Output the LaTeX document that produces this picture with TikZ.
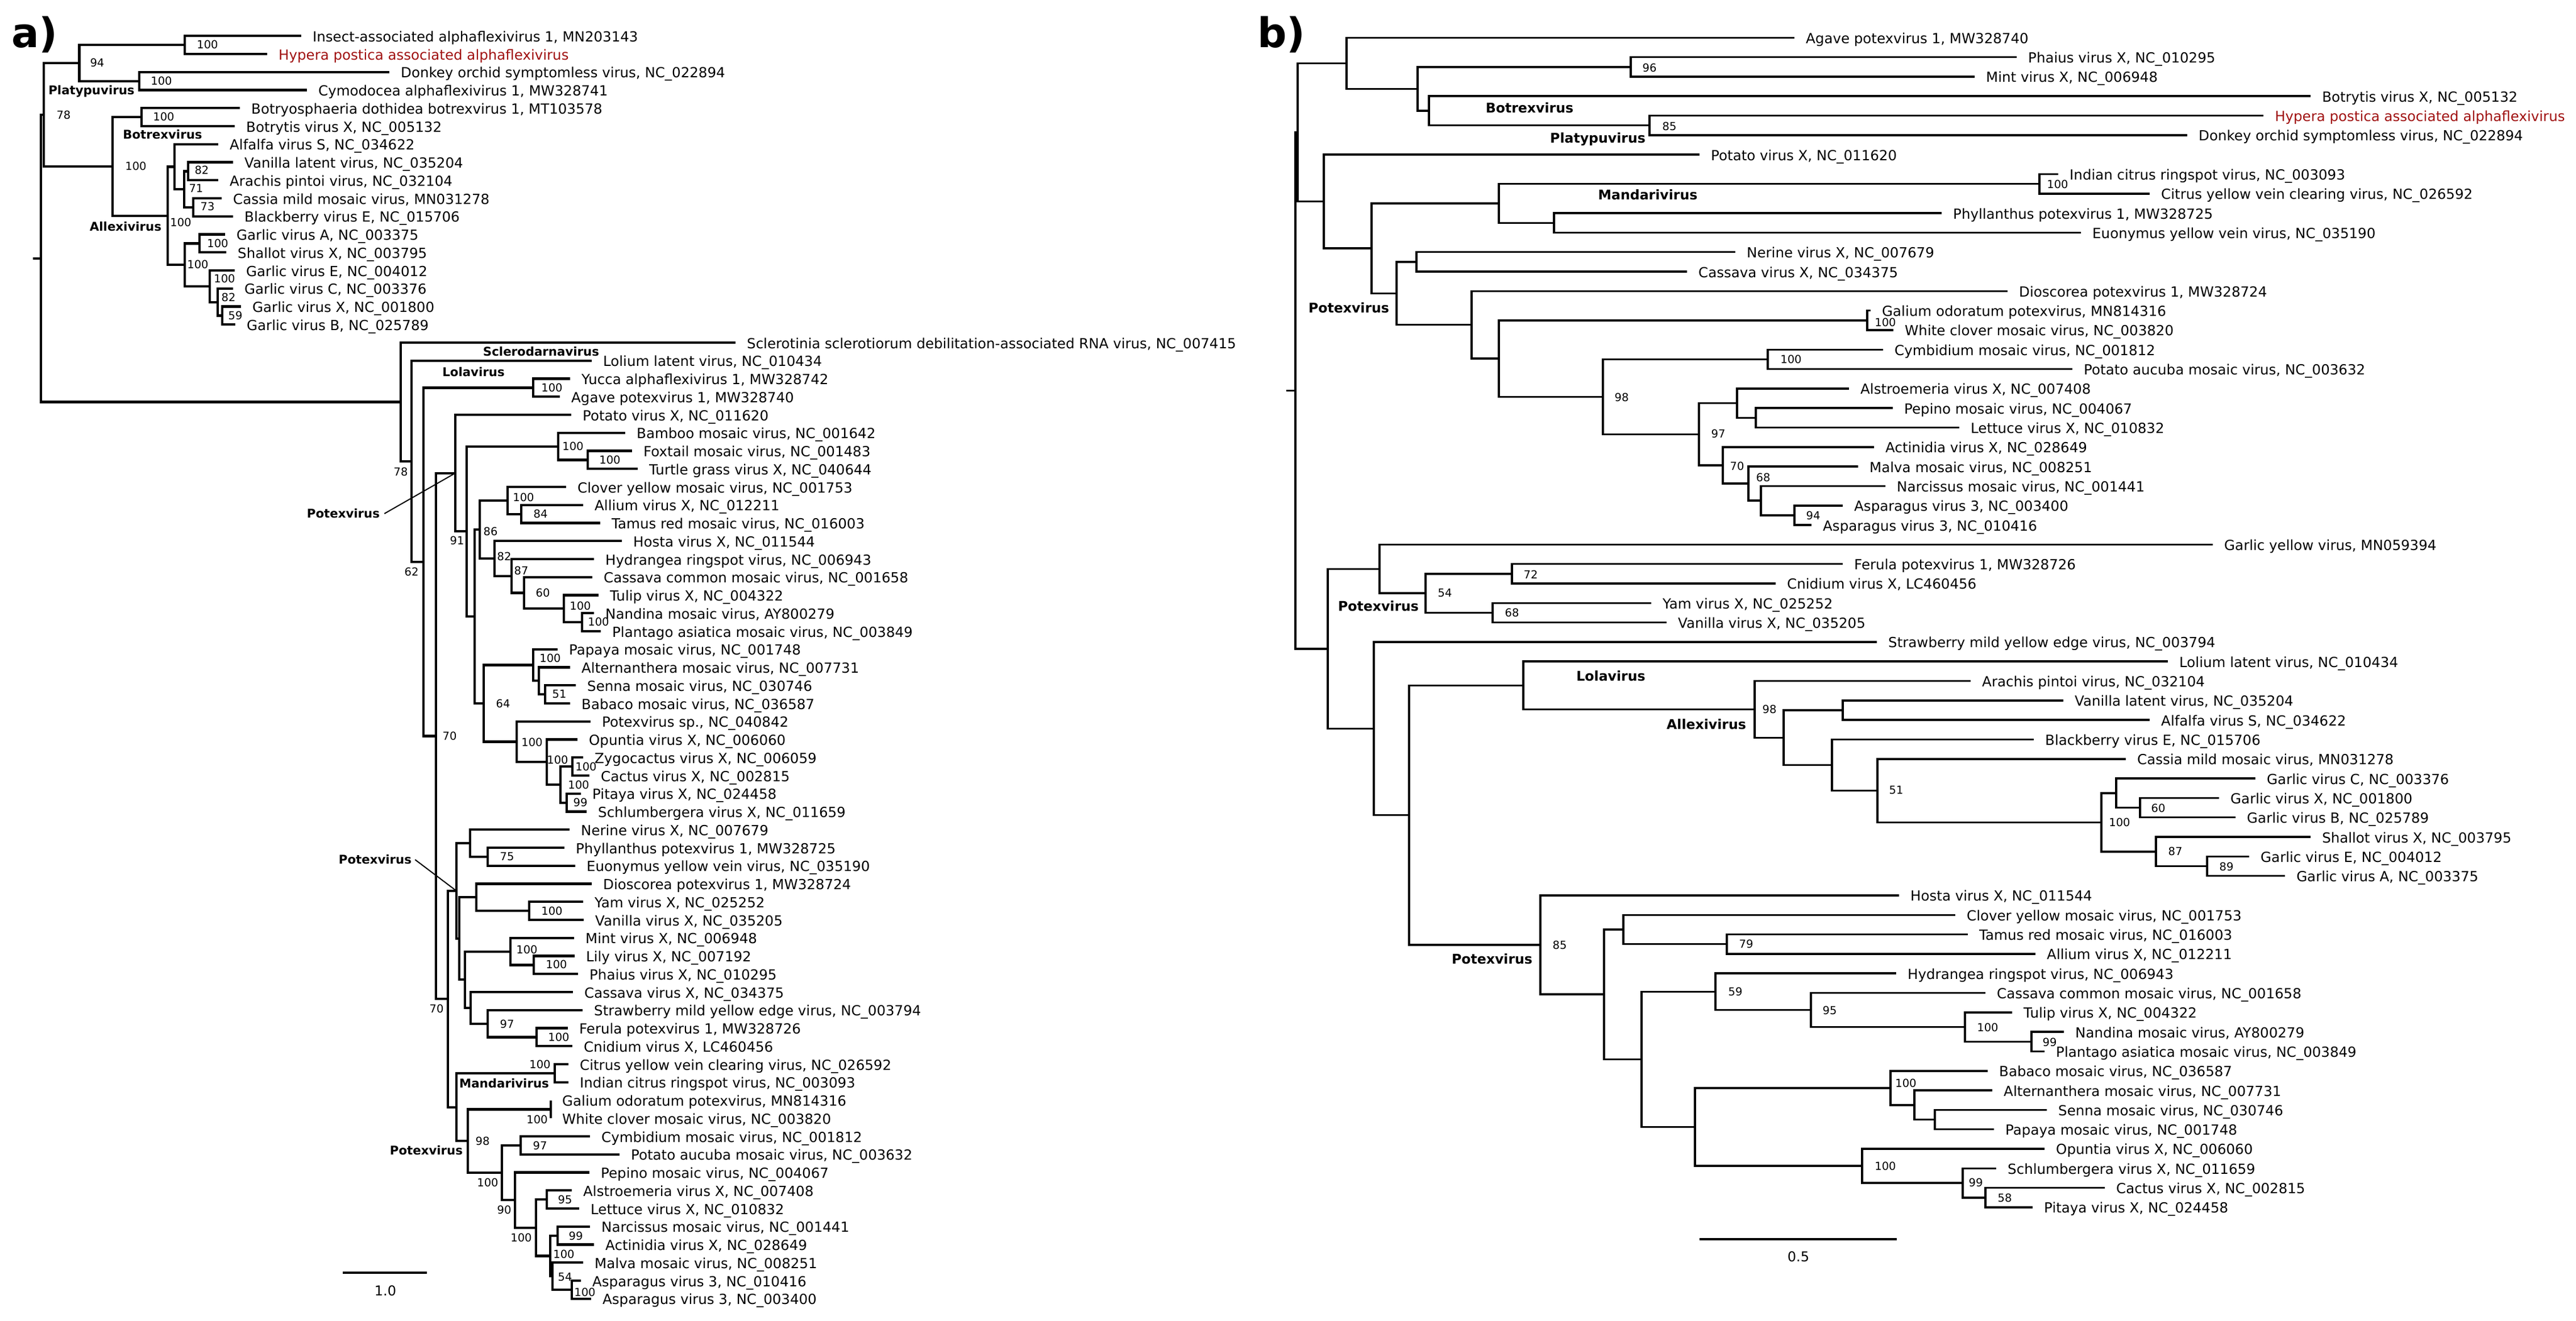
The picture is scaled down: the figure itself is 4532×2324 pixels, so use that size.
\documentclass[tikz,border=0pt]{standalone}
\usepackage{fontspec}
\setmainfont{DejaVu Sans}
\definecolor{hyred}{RGB}{160,16,16}
\newcommand\tipA[5][]{\coordinate (#2) at (#3,{63.3+(#4-1)*31.75}); \node[leaf,#1] (#2t) at ([xshift=20pt,yshift=-10pt]#2) {#5};}
\newcommand\tipB[5][]{\coordinate (#2) at (#3,{66.3+(#4-1)*34.31}); \node[leaf,#1] (#2t) at ([xshift=20pt,yshift=-10pt]#2) {#5};}
\newcommand\nodA[3]{\coordinate (#1) at (#2,{63.3+(#3-1)*31.75});}
\newcommand\nodB[3]{\coordinate (#1) at (#2,{66.3+(#3-1)*34.31});}
\newcommand\edg[3]{\draw[br] (#1) |- (#2); \draw[br] (#1) |- (#3);}
\newcommand\bsl[3]{\node[bs] (bs-#1-#2) at (#1,#2) {#3};}
\tikzset{
  leaf/.style={anchor=base west, inner sep=0pt, font=\fontsize{24.5}{29}\selectfont},
  bs/.style={inner sep=0pt, font=\fontsize{19.5}{23}\selectfont},
  cladeA/.style={inner sep=0pt, font=\bfseries\fontsize{21.3}{25}\selectfont},
  cladeB/.style={inner sep=0pt, font=\bfseries\fontsize{23.6}{27}\selectfont},
  panel/.style={anchor=base west, inner sep=0pt, font=\bfseries\fontsize{72}{80}\selectfont},
  sbl/.style={inner sep=0pt, font=\fontsize{24}{28}\selectfont},
  lead/.style={line width=2pt},
}
\begin{document}
\begin{tikzpicture}[x=1pt,y=-1pt]
\fill[white] (0,0) rectangle (4532,2324);
\useasboundingbox (0,0) rectangle (4532,2324);

\node[panel] (pa) at (20,83) {a)};
\node[panel] (pb) at (2212,83) {b)};

% ================= PANEL A =================
\begin{scope}[br/.style={line width=4.2pt}]
\tipA{l1}{530}{1}{Insect-associated alphaflexivirus 1, MN203143}
\tipA[text=hyred]{l2}{470}{2}{Hypera postica associated alphaflexivirus}
\tipA{l3}{685}{3}{Donkey orchid symptomless virus, NC\_022894}
\tipA{l4}{540}{4}{Cymodocea alphaflexivirus 1, MW328741}
\tipA{l5}{422}{5}{Botryosphaeria dothidea botrexvirus 1, MT103578}
\tipA{l6}{413}{6}{Botrytis virus X, NC\_005132}
\tipA{l7}{384}{7}{Alfalfa virus S, NC\_034622}
\tipA{l8}{410}{8}{Vanilla latent virus, NC\_035204}
\tipA{l9}{384}{9}{Arachis pintoi virus, NC\_032104}
\tipA{l10}{390}{10}{Cassia mild mosaic virus, MN031278}
\tipA{l11}{410}{11}{Blackberry virus E, NC\_015706}
\tipA{l12}{396}{12}{Garlic virus A, NC\_003375}
\tipA{l13}{398}{13}{Shallot virus X, NC\_003795}
\tipA{l14}{413}{14}{Garlic virus E, NC\_004012}
\tipA{l15}{410}{15}{Garlic virus C, NC\_003376}
\tipA{l16}{424}{16}{Garlic virus X, NC\_001800}
\tipA{l17}{414}{17}{Garlic virus B, NC\_025789}
\tipA{l18}{1294}{18}{Sclerotinia sclerotiorum debilitation-associated RNA virus, NC\_007415}
\tipA{l19}{1041}{19}{Lolium latent virus, NC\_010434}
\tipA{l20}{1003}{20}{Yucca alphaflexivirus 1, MW328742}
\tipA{l21}{985}{21}{Agave potexvirus 1, MW328740}
\tipA{l22}{1005}{22}{Potato virus X, NC\_011620}
\tipA{l23}{1100}{23}{Bamboo mosaic virus, NC\_001642}
\tipA{l24}{1112}{24}{Foxtail mosaic virus, NC\_001483}
\tipA{l25}{1122}{25}{Turtle grass virus X, NC\_040644}
\tipA{l26}{996}{26}{Clover yellow mosaic virus, NC\_001753}
\tipA{l27}{1026}{27}{Allium virus X, NC\_012211}
\tipA{l28}{1056}{28}{Tamus red mosaic virus, NC\_016003}
\tipA{l29}{1094}{29}{Hosta virus X, NC\_011544}
\tipA{l30}{1045}{30}{Hydrangea ringspot virus, NC\_006943}
\tipA{l31}{1042}{31}{Cassava common mosaic virus, NC\_001658}
\tipA{l32}{1053}{32}{Tulip virus X, NC\_004322}
\tipA{l33}{1045}{33}{Nandina mosaic virus, AY800279}
\tipA{l34}{1057}{34}{Plantago asiatica mosaic virus, NC\_003849}
\tipA{l35}{981}{35}{Papaya mosaic virus, NC\_001748}
\tipA{l36}{1003}{36}{Alternanthera mosaic virus, NC\_007731}
\tipA{l37}{1013}{37}{Senna mosaic virus, NC\_030746}
\tipA{l38}{1003}{38}{Babaco mosaic virus, NC\_036587}
\tipA{l39}{1039}{39}{Potexvirus sp., NC\_040842}
\tipA{l40}{1016}{40}{Opuntia virus X, NC\_006060}
\tipA{l41}{1026}{41}{Zygocactus virus X, NC\_006059}
\tipA{l42}{1037}{42}{Cactus virus X, NC\_002815}
\tipA{l43}{1022}{43}{Pitaya virus X, NC\_024458}
\tipA{l44}{1032}{44}{Schlumbergera virus X, NC\_011659}
\tipA{l45}{1002}{45}{Nerine virus X, NC\_007679}
\tipA{l46}{993}{46}{Phyllanthus potexvirus 1, MW328725}
\tipA{l47}{1012}{47}{Euonymus yellow vein virus, NC\_035190}
\tipA{l48}{1041}{48}{Dioscorea potexvirus 1, MW328724}
\tipA{l49}{1026}{49}{Yam virus X, NC\_025252}
\tipA{l50}{1027}{50}{Vanilla virus X, NC\_035205}
\tipA{l51}{1010}{51}{Mint virus X, NC\_006948}
\tipA{l52}{1011}{52}{Lily virus X, NC\_007192}
\tipA{l53}{1017}{53}{Phaius virus X, NC\_010295}
\tipA{l54}{1008}{54}{Cassava virus X, NC\_034375}
\tipA{l55}{1025}{55}{Strawberry mild yellow edge virus, NC\_003794}
\tipA{l56}{999}{56}{Ferula potexvirus 1, MW328726}
\tipA{l57}{1007}{57}{Cnidium virus X, LC460456}
\tipA{l58}{1000}{58}{Citrus yellow vein clearing virus, NC\_026592}
\tipA{l59}{1000}{59}{Indian citrus ringspot virus, NC\_003093}
\tipA{l60}{969}{60}{Galium odoratum potexvirus, MN814316}
\tipA{l61}{969}{61}{White clover mosaic virus, NC\_003820}
\tipA{l62}{1038}{62}{Cymbidium mosaic virus, NC\_001812}
\tipA{l63}{1090}{63}{Potato aucuba mosaic virus, NC\_003632}
\tipA{l64}{1037}{64}{Pepino mosaic virus, NC\_004067}
\tipA{l65}{1006}{65}{Alstroemeria virus X, NC\_007408}
\tipA{l66}{1019}{66}{Lettuce virus X, NC\_010832}
\tipA{l67}{1038}{67}{Narcissus mosaic virus, NC\_001441}
\tipA{l68}{1045}{68}{Actinidia virus X, NC\_028649}
\tipA{l69}{1026}{69}{Malva mosaic virus, NC\_008251}
\tipA{l70}{1022}{70}{Asparagus virus 3, NC\_010416}
\tipA{l71}{1040}{71}{Asparagus virus 3, NC\_003400}

\nodA{aI1}{325}{1.5}
\nodA{aD}{245}{3.5}
\nodA{a94}{139.5}{2.5}
\nodA{aB}{249}{5.5}
\nodA{aVA}{331}{8.5}
\nodA{aCB}{340}{10.5}
\nodA{a71}{324}{9.5}
\nodA{aAl}{307}{8.25}
\nodA{aGS}{351}{12.5}
\nodA{aGXB}{391}{16.5}
\nodA{aG82}{383}{15.75}
\nodA{aG100}{369}{14.875}
\nodA{aGall}{325}{13.6875}
\nodA{aAllex}{295}{10.96875}
\nodA{aBA}{198}{8.234375}
\nodA{a78}{77}{5.3671875}
\nodA{aYA}{938}{20.5}
\nodA{aFT}{1034}{24.5}
\nodA{aBam}{982}{23.75}
\nodA{aAT}{917}{27.5}
\nodA{aCl}{893}{26.75}
\nodA{aNP}{1024}{33.5}
\nodA{aTu}{992}{32.75}
\nodA{a60}{922}{31.875}
\nodA{a87}{900}{30.9375}
\nodA{a82}{870}{29.96875}
\nodA{a86}{844}{28.359375}
\nodA{aSB}{959}{37.5}
\nodA{aAlt}{948}{36.75}
\nodA{aPap}{938}{35.875}
\nodA{aZC}{1007}{41.5}
\nodA{aPS}{997}{43.5}
\nodA{aZP}{986}{42.5}
\nodA{aOp}{962}{41.25}
\nodA{aPsp}{909}{40.125}
\nodA{a64}{851}{38.0}
\nodA{a835}{835}{33.1797}
\nodA{a821}{821}{28.4648}
\nodA{a801}{801}{25.2324}
\nodA{aPE}{858}{46.5}
\nodA{aNer}{827}{45.75}
\nodA{aYV}{931}{49.5}
\nodA{aDio}{838}{48.75}
\nodA{aLP}{939}{52.5}
\nodA{aMint}{898}{51.75}
\nodA{aFC}{944}{56.5}
\nodA{aStr}{858}{55.75}
\nodA{aCas}{828}{54.875}
\nodA{a818}{818}{53.3125}
\nodA{a808}{808}{51.03125}
\nodA{a803}{803}{48.3906}
\nodA{aMand}{976}{58.5}
\nodA{aGal}{969}{60.5}
\nodA{aCP}{916}{62.5}
\nodA{aAL}{962}{65.5}
\nodA{aNA}{981}{67.5}
\nodA{aAsp}{1006}{70.5}
\nodA{a54}{972}{69.75}
\nodA{a100c}{968}{68.625}
\nodA{a100b}{943}{67.0625}
\nodA{a90}{906}{65.53125}
\nodA{a100a}{883}{64.0156}
\nodA{a98}{823}{62.2578}
\nodA{aMP}{803}{60.3789}
\nodA{a788}{788}{54.3848}
\nodA{a767}{767}{39.8086}
\nodA{a745}{745}{30.1543}
\nodA{a724}{724}{24.5771}
\nodA{aS}{705}{21.2886}
\nodA{a0}{72}{13.3279}
\nodA{a0s}{58}{13.3279}

\draw[br] (a0) -- (a0s);
\edg{a0}{a78}{aS}
\edg{a78}{a94}{aBA}
\edg{a94}{aI1}{aD}
\edg{aI1}{l1}{l2}
\edg{aD}{l3}{l4}
\edg{aBA}{aB}{aAllex}
\edg{aB}{l5}{l6}
\edg{aAllex}{aAl}{aGall}
\edg{aAl}{l7}{a71}
\edg{a71}{aVA}{aCB}
\edg{aVA}{l8}{l9}
\edg{aCB}{l10}{l11}
\edg{aGall}{aGS}{aG100}
\edg{aGS}{l12}{l13}
\edg{aG100}{l14}{aG82}
\edg{aG82}{l15}{aGXB}
\edg{aGXB}{l16}{l17}
\edg{aS}{l18}{a724}
\edg{a724}{l19}{a745}
\edg{a745}{aYA}{a767}
\edg{aYA}{l20}{l21}
\edg{a767}{a801}{a788}
\edg{a801}{l22}{a821}
\edg{a821}{aBam}{a835}
\edg{aBam}{l23}{aFT}
\edg{aFT}{l24}{l25}
\edg{a835}{a86}{a64}
\edg{a86}{aCl}{a82}
\edg{aCl}{l26}{aAT}
\edg{aAT}{l27}{l28}
\edg{a82}{l29}{a87}
\edg{a87}{l30}{a60}
\edg{a60}{l31}{aTu}
\edg{aTu}{l32}{aNP}
\edg{aNP}{l33}{l34}
\edg{a64}{aPap}{aPsp}
\edg{aPap}{l35}{aAlt}
\edg{aAlt}{l36}{aSB}
\edg{aSB}{l37}{l38}
\edg{aPsp}{l39}{aOp}
\edg{aOp}{l40}{aZP}
\edg{aZP}{aZC}{aPS}
\edg{aZC}{l41}{l42}
\edg{aPS}{l43}{l44}
\edg{a788}{a803}{aMP}
\edg{a803}{aNer}{a808}
\edg{aNer}{l45}{aPE}
\edg{aPE}{l46}{l47}
\edg{a808}{aDio}{a818}
\edg{aDio}{l48}{aYV}
\edg{aYV}{l49}{l50}
\edg{a818}{aMint}{aCas}
\edg{aMint}{l51}{aLP}
\edg{aLP}{l52}{l53}
\edg{aCas}{l54}{aStr}
\edg{aStr}{l55}{aFC}
\edg{aFC}{l56}{l57}
\edg{aMP}{aMand}{a98}
\edg{aMand}{l58}{l59}
\edg{a98}{aGal}{a100a}
\edg{aGal}{l60}{l61}
\edg{a100a}{aCP}{a90}
\edg{aCP}{l62}{l63}
\edg{a90}{l64}{a100b}
\edg{a100b}{aAL}{a100c}
\edg{aAL}{l65}{l66}
\edg{a100c}{aNA}{a54}
\edg{aNA}{l67}{l68}
\edg{a54}{l69}{aAsp}
\edg{aAsp}{l70}{l71}

% support values
\bsl{365}{78}{100}
\bsl{171}{110}{94}
\bsl{284}{142}{100}
\bsl{112}{202}{78}
\bsl{288}{205}{100}
\bsl{239}{292}{100}
\bsl{355}{299}{82}
\bsl{345}{331}{71}
\bsl{365}{363}{73}
\bsl{318}{391}{100}
\bsl{383}{428}{100}
\bsl{348}{465}{100}
\bsl{395}{490}{100}
\bsl{402}{523}{82}
\bsl{414}{555}{59}
\bsl{705}{830}{78}
\bsl{724}{1006}{62}
\bsl{971}{682}{100}
\bsl{804}{951}{91}
\bsl{1008}{785}{100}
\bsl{1073}{809}{100}
\bsl{921}{875}{100}
\bsl{951}{904}{84}
\bsl{863}{935}{86}
\bsl{887}{979}{82}
\bsl{917}{1004}{87}
\bsl{955}{1043}{60}
\bsl{1021}{1066}{100}
\bsl{1053}{1094}{100}
\bsl{968}{1158}{100}
\bsl{984}{1222}{51}
\bsl{885}{1238}{64}
\bsl{791}{1295}{70}
\bsl{936}{1306}{100}
\bsl{981}{1337}{100}
\bsl{1031}{1349}{100}
\bsl{1018}{1381}{100}
\bsl{1021}{1412}{99}
\bsl{892}{1508}{75}
\bsl{971}{1603}{100}
\bsl{927}{1671}{100}
\bsl{979}{1697}{100}
\bsl{768}{1775}{70}
\bsl{892}{1802}{97}
\bsl{983}{1825}{100}
\bsl{950}{1873}{100}
\bsl{945}{1970}{100}
\bsl{849}{2008}{98}
\bsl{950}{2016}{97}
\bsl{858}{2081}{100}
\bsl{887}{2129}{90}
\bsl{994}{2111}{95}
\bsl{917}{2178}{100}
\bsl{1013}{2175}{99}
\bsl{992}{2207}{100}
\bsl{994}{2247}{54}
\bsl{1029}{2274}{100}

% clade names
\node[cladeA] (cAplat) at (161,161) {Platypuvirus};
\node[cladeA] (cAbot) at (286,237) {Botrexvirus};
\node[cladeA] (cAall) at (221,399) {Allexivirus};
\node[cladeA] (cAscl) at (952,619) {Sclerodarnavirus};
\node[cladeA] (cAlol) at (833,655) {Lolavirus};
\node[cladeA] (cApot1) at (604,904) {Potexvirus};
\node[cladeA] (cApot2) at (660,1513) {Potexvirus};
\node[cladeA] (cAman) at (887,1907) {Mandarivirus};
\node[cladeA] (cApot3) at (750,2025) {Potexvirus};
\draw[lead] ([xshift=8pt]cApot1.east) -- (a801);
\draw[lead] ([xshift=6pt]cApot2.east) -- (a803);

% scale bar
\coordinate (sa1) at (603,2240);
\coordinate (sa2) at (751,2240);
\draw[br] (sa1) -- (sa2);
\node[sbl] (sal) at (678,2272) {1.0};
\end{scope}

% ================= PANEL B =================
\begin{scope}[br/.style={line width=3.5pt}]
\tipB{m1}{3157}{1}{Agave potexvirus 1, MW328740}
\tipB{m2}{3548}{2}{Phaius virus X, NC\_010295}
\tipB{m3}{3474}{3}{Mint virus X, NC\_006948}
\tipB{m4}{4065}{4}{Botrytis virus X, NC\_005132}
\tipB[text=hyred]{m5}{3982}{5}{Hypera postica associated alphaflexivirus}
\tipB{m6}{3848}{6}{Donkey orchid symptomless virus, NC\_022894}
\tipB{m7}{2990}{7}{Potato virus X, NC\_011620}
\tipB{m8}{3621}{8}{Indian citrus ringspot virus, NC\_003093}
\tipB{m9}{3782}{9}{Citrus yellow vein clearing virus, NC\_026592}
\tipB{m10}{3416}{10}{Phyllanthus potexvirus 1, MW328725}
\tipB{m11}{3661}{11}{Euonymus yellow vein virus, NC\_035190}
\tipB{m12}{3053}{12}{Nerine virus X, NC\_007679}
\tipB{m13}{2968}{13}{Cassava virus X, NC\_034375}
\tipB{m14}{3532}{14}{Dioscorea potexvirus 1, MW328724}
\tipB{m15}{3291}{15}{Galium odoratum potexvirus, MN814316}
\tipB{m16}{3331}{16}{White clover mosaic virus, NC\_003820}
\tipB{m17}{3313}{17}{Cymbidium mosaic virus, NC\_001812}
\tipB{m18}{3646}{18}{Potato aucuba mosaic virus, NC\_003632}
\tipB{m19}{3253}{19}{Alstroemeria virus X, NC\_007408}
\tipB{m20}{3330}{20}{Pepino mosaic virus, NC\_004067}
\tipB{m21}{3447}{21}{Lettuce virus X, NC\_010832}
\tipB{m22}{3297}{22}{Actinidia virus X, NC\_028649}
\tipB{m23}{3269}{23}{Malva mosaic virus, NC\_008251}
\tipB{m24}{3317}{24}{Narcissus mosaic virus, NC\_001441}
\tipB{m25}{3242}{25}{Asparagus virus 3, NC\_003400}
\tipB{m26}{3187}{26}{Asparagus virus 3, NC\_010416}
\tipB{m27}{3893}{27}{Garlic yellow virus, MN059394}
\tipB{m28}{3242}{28}{Ferula potexvirus 1, MW328726}
\tipB{m29}{3124}{29}{Cnidium virus X, LC460456}
\tipB{m30}{2905}{30}{Yam virus X, NC\_025252}
\tipB{m31}{2932}{31}{Vanilla virus X, NC\_035205}
\tipB{m32}{3302}{32}{Strawberry mild yellow edge virus, NC\_003794}
\tipB{m33}{3814}{33}{Lolium latent virus, NC\_010434}
\tipB{m34}{3467}{34}{Arachis pintoi virus, NC\_032104}
\tipB{m35}{3630}{35}{Vanilla latent virus, NC\_035204}
\tipB{m36}{3782}{36}{Alfalfa virus S, NC\_034622}
\tipB{m37}{3578}{37}{Blackberry virus E, NC\_015706}
\tipB{m38}{3740}{38}{Cassia mild mosaic virus, MN031278}
\tipB{m39}{3968}{39}{Garlic virus C, NC\_003376}
\tipB{m40}{3904}{40}{Garlic virus X, NC\_001800}
\tipB{m41}{3933}{41}{Garlic virus B, NC\_025789}
\tipB{m42}{4065}{42}{Shallot virus X, NC\_003795}
\tipB{m43}{3957}{43}{Garlic virus E, NC\_004012}
\tipB{m44}{4020}{44}{Garlic virus A, NC\_003375}
\tipB{m45}{3341}{45}{Hosta virus X, NC\_011544}
\tipB{m46}{3440}{46}{Clover yellow mosaic virus, NC\_001753}
\tipB{m47}{3462}{47}{Tamus red mosaic virus, NC\_016003}
\tipB{m48}{3581}{48}{Allium virus X, NC\_012211}
\tipB{m49}{3336}{49}{Hydrangea ringspot virus, NC\_006943}
\tipB{m50}{3493}{50}{Cassava common mosaic virus, NC\_001658}
\tipB{m51}{3540}{51}{Tulip virus X, NC\_004322}
\tipB{m52}{3631}{52}{Nandina mosaic virus, AY800279}
\tipB{m53}{3597}{53}{Plantago asiatica mosaic virus, NC\_003849}
\tipB{m54}{3497}{54}{Babaco mosaic virus, NC\_036587}
\tipB{m55}{3505}{55}{Alternanthera mosaic virus, NC\_007731}
\tipB{m56}{3601}{56}{Senna mosaic virus, NC\_030746}
\tipB{m57}{3508}{57}{Papaya mosaic virus, NC\_001748}
\tipB{m58}{3597}{58}{Opuntia virus X, NC\_006060}
\tipB{m59}{3512}{59}{Schlumbergera virus X, NC\_011659}
\tipB{m60}{3703}{60}{Cactus virus X, NC\_002815}
\tipB{m61}{3576}{61}{Pitaya virus X, NC\_024458}

\nodB{bPM}{2869}{2.5}
\nodB{bHD}{2902}{5.5}
\nodB{bBot}{2514}{4.75}
\nodB{bPMB}{2494}{3.625}
\nodB{b1}{2369}{2.3125}
\nodB{bIC}{3588}{8.5}
\nodB{bPE}{2734}{10.5}
\nodB{bMand}{2637}{9.5}
\nodB{bNC}{2492}{12.5}
\nodB{bGW}{3285}{15.5}
\nodB{bCP}{3110}{17.5}
\nodB{bPL}{3089}{20.5}
\nodB{bAls}{3056}{19.75}
\nodB{bAsp}{3157}{25.5}
\nodB{bNar}{3098}{24.75}
\nodB{b68}{3076}{23.875}
\nodB{b70}{3031}{22.9375}
\nodB{b97}{2989}{21.34375}
\nodB{b98}{2820}{19.421875}
\nodB{bG}{2637}{17.4609}
\nodB{bDio}{2589}{15.7305}
\nodB{bNCD}{2457}{14.1152}
\nodB{bPot}{2413}{11.8076}
\nodB{b2}{2329}{9.4038}
\nodB{bR}{2283}{5.8582}
\nodB{bFC}{2660}{28.5}
\nodB{bYV}{2626}{30.5}
\nodB{b54}{2508}{29.5}
\nodB{bGY}{2427}{28.25}
\nodB{bAV}{3242}{35.5}
\nodB{bGXB}{3765}{40.5}
\nodB{bGC}{3723}{39.75}
\nodB{bEA}{3883}{43.5}
\nodB{b87}{3793}{42.75}
\nodB{b100}{3697}{41.25}
\nodB{b51}{3303}{39.625}
\nodB{bBl}{3223}{38.3125}
\nodB{bVB}{3138}{36.90625}
\nodB{b98a}{3087}{35.453125}
\nodB{bLol}{2680}{34.2266}
\nodB{bTA}{3038}{47.5}
\nodB{bCl}{2856}{46.75}
\nodB{bNP}{3574}{52.5}
\nodB{bTu}{3457}{51.75}
\nodB{b95}{3186}{50.875}
\nodB{b59}{3018}{49.9375}
\nodB{bSP}{3404}{56.5}
\nodB{bAlt}{3368}{55.75}
\nodB{bBab}{3326}{54.875}
\nodB{bCPt}{3493}{60.5}
\nodB{b99}{3453}{59.75}
\nodB{bOp}{3276}{58.875}
\nodB{bBO}{2982}{56.875}
\nodB{bHC}{2888}{53.40625}
\nodB{bCH}{2822}{50.0781}
\nodB{b85}{2710}{47.5391}
\nodB{bLP}{2479}{40.8828}
\nodB{bStr}{2417}{36.4414}
\nodB{b3}{2336}{32.3457}
\nodB{b0}{2279}{19.102}
\nodB{b0s}{2263}{19.102}

\draw[br] (b0) -- (b0s);
\edg{b0}{bR}{b3}
\edg{bR}{b1}{b2}
\edg{b1}{m1}{bPMB}
\edg{bPMB}{bPM}{bBot}
\edg{bPM}{m2}{m3}
\edg{bBot}{m4}{bHD}
\edg{bHD}{m5}{m6}
\edg{b2}{m7}{bPot}
\edg{bPot}{bMand}{bNCD}
\edg{bMand}{bIC}{bPE}
\edg{bIC}{m8}{m9}
\edg{bPE}{m10}{m11}
\edg{bNCD}{bNC}{bDio}
\edg{bNC}{m12}{m13}
\edg{bDio}{m14}{bG}
\edg{bG}{bGW}{b98}
\edg{bGW}{m15}{m16}
\edg{b98}{bCP}{b97}
\edg{bCP}{m17}{m18}
\edg{b97}{bAls}{b70}
\edg{bAls}{m19}{bPL}
\edg{bPL}{m20}{m21}
\edg{b70}{m22}{b68}
\edg{b68}{m23}{bNar}
\edg{bNar}{m24}{bAsp}
\edg{bAsp}{m25}{m26}
\edg{b3}{bGY}{bStr}
\edg{bGY}{m27}{b54}
\edg{b54}{bFC}{bYV}
\edg{bFC}{m28}{m29}
\edg{bYV}{m30}{m31}
\edg{bStr}{m32}{bLP}
\edg{bLP}{bLol}{b85}
\edg{bLol}{m33}{b98a}
\edg{b98a}{m34}{bVB}
\edg{bVB}{bAV}{bBl}
\edg{bAV}{m35}{m36}
\edg{bBl}{m37}{b51}
\edg{b51}{m38}{b100}
\edg{b100}{bGC}{b87}
\edg{bGC}{m39}{bGXB}
\edg{bGXB}{m40}{m41}
\edg{b87}{m42}{bEA}
\edg{bEA}{m43}{m44}
\edg{b85}{m45}{bCH}
\edg{bCH}{bCl}{bHC}
\edg{bCl}{m46}{bTA}
\edg{bTA}{m47}{m48}
\edg{bHC}{b59}{bBO}
\edg{b59}{m49}{b95}
\edg{b95}{m50}{bTu}
\edg{bTu}{m51}{bNP}
\edg{bNP}{m52}{m53}
\edg{bBO}{bBab}{bOp}
\edg{bBab}{m54}{bAlt}
\edg{bAlt}{m55}{bSP}
\edg{bSP}{m56}{m57}
\edg{bOp}{m58}{b99}
\edg{b99}{m59}{bCPt}
\edg{bCPt}{m60}{m61}

\bsl{2902}{119}{96}
\bsl{2937}{222}{85}
\bsl{3620}{324}{100}
\bsl{3317}{567}{100}
\bsl{3151}{632}{100}
\bsl{2853}{699}{98}
\bsl{3023}{763}{97}
\bsl{3056}{820}{70}
\bsl{3102}{840}{68}
\bsl{3190}{907}{94}
\bsl{2693}{1011}{72}
\bsl{2542}{1044}{54}
\bsl{2660}{1078}{68}
\bsl{3113}{1248}{98}
\bsl{3336}{1391}{51}
\bsl{3729}{1447}{100}
\bsl{3797}{1422}{60}
\bsl{3827}{1498}{87}
\bsl{3917}{1525}{89}
\bsl{2744}{1663}{85}
\bsl{3072}{1661}{79}
\bsl{3053}{1745}{59}
\bsl{3219}{1778}{95}
\bsl{3497}{1808}{100}
\bsl{3606}{1834}{99}
\bsl{3353}{1906}{100}
\bsl{3317}{2052}{100}
\bsl{3476}{2081}{99}
\bsl{3527}{2108}{58}

\node[cladeB] (cBbot) at (2691,190) {Botrexvirus};
\node[cladeB] (cBplat) at (2811,245) {Platypuvirus};
\node[cladeB] (cBman) at (2899,343) {Mandarivirus};
\node[cladeB] (cBpot1) at (2373,542) {Potexvirus};
\node[cladeB] (cBpot2) at (2425,1067) {Potexvirus};
\node[cladeB] (cBlol) at (2834,1190) {Lolavirus};
\node[cladeB] (cBall) at (3002,1275) {Allexivirus};
\node[cladeB] (cBpot3) at (2625,1688) {Potexvirus};

\coordinate (sb1) at (2990,2181);
\coordinate (sb2) at (3337,2181);
\draw[br] (sb1) -- (sb2);
\node[sbl] (sbl) at (3164,2212) {0.5};
\end{scope}
\end{tikzpicture}
\end{document}
